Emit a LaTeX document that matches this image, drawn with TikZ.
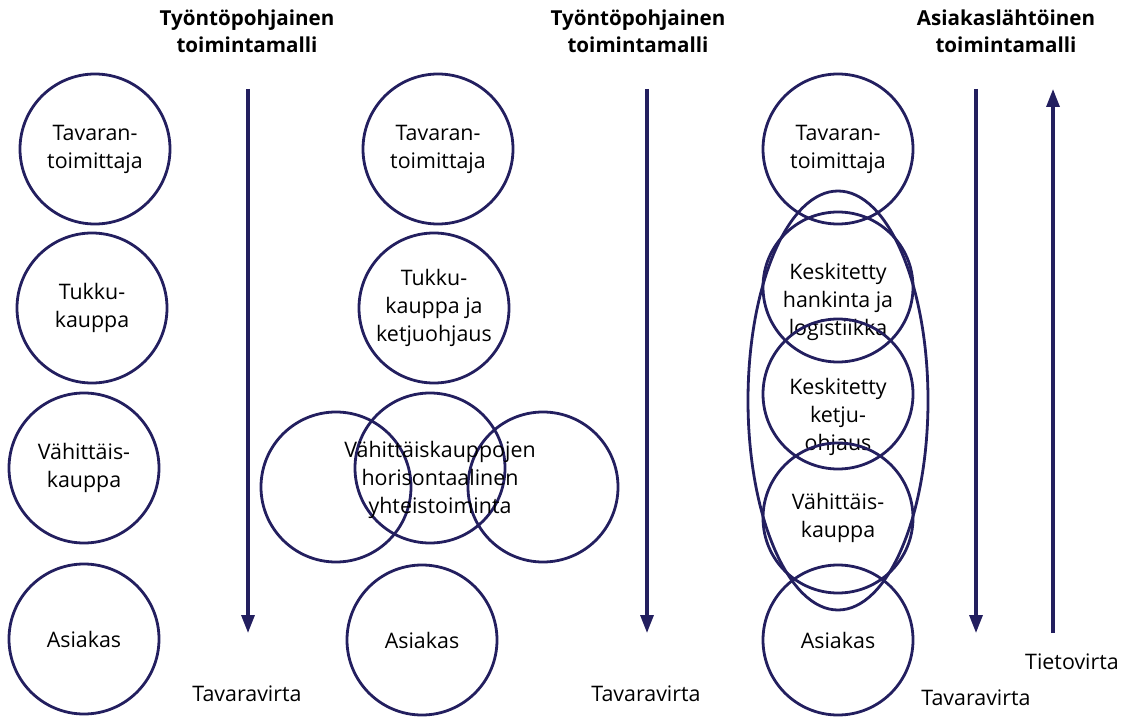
\documentclass[tikz,border=0pt]{standalone}
\usepackage{fontspec}
\setmainfont{Open Sans}
\usepackage{tikz}
\usetikzlibrary{arrows.meta,shapes.geometric}

\definecolor{navy}{RGB}{35,31,95}

\tikzset{
  ring/.style={circle, draw=navy, line width=1.4pt, minimum size=75pt,
    inner sep=0pt, align=center, font=\fontsize{10.7}{14}\selectfont},
  txt/.style={align=center, font=\fontsize{10.7}{14}\selectfont},
  head/.style={align=center, font=\bfseries\fontsize{10.3}{13.5}\selectfont},
  flow/.style={draw=navy, line width=1.6pt, -{Triangle[length=9pt,width=6.5pt]}}
}

\begin{document}
\begin{tikzpicture}[x=0.5pt,y=-0.5pt]
\useasboundingbox (0,0) rectangle (1129,717);

% headers
\node[head] (h1) at (247,31) {Työntöpohjainen\\toimintamalli};
\node[head] (h2) at (638,31) {Työntöpohjainen\\toimintamalli};
\node[head] (h3) at (1006,31) {Asiakaslähtöinen\\toimintamalli};

% first model
\node[ring] (a1) at (95,149) {Tavaran-\\toimittaja};
\node[ring] (a2) at (92,308) {Tukku-\\kauppa};
\node[ring] (a3) at (84,468) {Vähittäis-\\kauppa};
\node[ring] (a4) at (84,639) {Asiakas};

% second model
\node[ring] (b1) at (438,149) {Tavaran-\\toimittaja};
\node[ring] (b2) at (434,308) {Tukku-\\kauppa ja\\ketjuohjaus};
\node[ring] (bl) at (336,487) {};
\node[ring] (br) at (543,487) {};
\node[ring] (b3) at (430,468) {};
\node[txt] (b3t) at (440,480) {Vähittäiskauppojen\\horisontaalinen\\yhteistoiminta};
\node[ring] (b4) at (422,640) {Asiakas};

% third model
\node[ellipse, draw=navy, line width=1.4pt, minimum width=90pt,
  minimum height=209.5pt, inner sep=0pt] (zone) at (838,400.5) {};
\node[ring] (c1) at (838,149) {Tavaran-\\toimittaja};
\node[ring] (c2) at (838,287) {};
\node[txt] (c2t) at (838,302) {Keskitetty\\hankinta ja\\logistiikka};
\node[ring] (c3) at (838,394) {};
\node[txt] (c3t) at (838,417) {Keskitetty\\ketju-\\ohjaus};
\node[ring] (c4) at (838,518) {Vähittäis-\\kauppa};
\node[ring] (c5) at (838,640) {Asiakas};

% flows
\foreach \n/\x in {1/248,2/647,3/976}
{
  \coordinate (s\n) at (\x,89);
  \coordinate (e\n) at (\x,633);
  \draw[flow] (s\n) -- (e\n);
}
\coordinate (u1) at (1053,633);
\coordinate (u2) at (1053,89);
\draw[flow] (u1) -- (u2);

\node[txt] (t1) at (247,694) {Tavaravirta};
\node[txt] (t2) at (646,694) {Tavaravirta};
\node[txt] (t3) at (976,698) {Tavaravirta};
\node[txt] (t4) at (1072,662) {Tietovirta};

\end{tikzpicture}
\end{document}
